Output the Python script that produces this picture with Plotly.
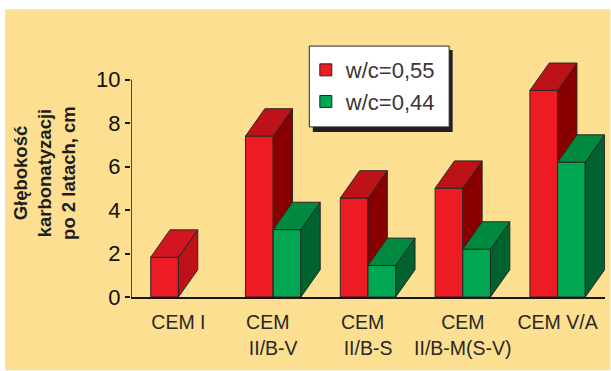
import plotly.graph_objects as go

categories = ["CEM I", "CEM\u00a0\u00a0<br>II/B-V", "CEM\u00a0\u00a0<br>II/B-S", "CEM<br>II/B-M(S-V)", "CEM V/A"]
wc055 = [1.83, 7.4, 4.55, 5.0, 9.5]
wc044 = [None, 3.1, 1.45, 2.2, 6.2]
y_ticks = [0, 2, 4, 6, 8, 10]

W, H = 611, 371
L, R, B = 131, 605.5, 297.5
UNIT = 21.8
YMAX = 12
T = B - UNIT * YMAX
BAR_W = 0.292
DX, DY = 0.204, 1.257
INK = "#2a2726"
BG = "#FDDF91"


def px(x):
    return (x - L) / (R - L)


def py(y):
    return (B - y) / (B - T)


def box(x0, x1, v, xa, ya, side_col, top_col):
    side = go.Scatter(x=[x1, x1 + DX, x1 + DX, x1, x1], y=[0, DY, v + DY, v, 0],
                      mode="lines", fill="toself", fillcolor=side_col,
                      line=dict(color=INK, width=1),
                      showlegend=False, hoverinfo="skip", xaxis=xa, yaxis=ya)
    top = go.Scatter(x=[x0, x0 + DX, x1 + DX, x1, x0], y=[v, v + DY, v + DY, v, v],
                     mode="lines", fill="toself", fillcolor=top_col,
                     line=dict(color=INK, width=1),
                     showlegend=False, hoverinfo="skip", xaxis=xa, yaxis=ya)
    return [side, top]


xs = list(range(len(categories)))
fig = go.Figure()
fig.add_trace(go.Bar(x=xs, y=wc055, width=BAR_W, offset=-BAR_W, name="w/c=0,55",
                     marker=dict(color="#ED1C24", line=dict(color=INK, width=1)),
                     legendgroup="a", xaxis="x", yaxis="y"))
fig.add_trace(go.Bar(x=xs, y=wc044, width=BAR_W, offset=0, name="w/c=0,44",
                     marker=dict(color="#00A651", line=dict(color=INK, width=1)),
                     legendgroup="b", xaxis="x2", yaxis="y2"))
for i, v in zip(xs, wc055):
    if i == 0:
        fig.add_traces(box(i - BAR_W, i, v, "x", "y", "#BE1219", "#D2161F"))
    else:
        fig.add_traces(box(i - BAR_W, i, v, "x", "y", "#890000", "#BE1219"))
for i, v in zip(xs, wc044):
    if v is not None:
        fig.add_traces(box(i, i + BAR_W, v, "x2", "y2", "#00622F", "#008A40"))

font = "Liberation Sans"
fig.update_layout(
    width=W, height=H, autosize=False,
    margin=dict(l=L, r=W - R, t=T, b=H - B, pad=0),
    paper_bgcolor="white", plot_bgcolor="rgba(0,0,0,0)",
    barmode="overlay", showlegend=True,
    xaxis=dict(range=[-0.5, 4.5], tickvals=xs, ticktext=categories, showgrid=False, zeroline=False,
               showline=True, linecolor="#1a1816", linewidth=1.5, ticks="", ticklabelstandoff=7,
               tickfont=dict(family=font, size=19.5, color="#2a2726")),
    yaxis=dict(range=[0, YMAX], tickvals=y_ticks, showgrid=False, zeroline=False, showline=False,
               ticks="outside", ticklen=5, tickwidth=1.5,
               tickcolor="#1a1816", tickfont=dict(family=font, size=22, color="#111111")),
    xaxis2=dict(range=[-0.5, 4.5], overlaying="x", visible=False),
    yaxis2=dict(range=[0, YMAX], overlaying="y", visible=False),
    legend=dict(x=px(306), y=py(49), xanchor="left", yanchor="top",
                bgcolor="rgba(0,0,0,0)", borderwidth=0,
                font=dict(family=font, size=22, color="#3a3735"),
                traceorder="normal", tracegroupgap=1, itemwidth=30),
    shapes=[
        dict(type="rect", xref="paper", yref="paper", x0=px(5), x1=px(611), y0=py(371), y1=py(9),
             fillcolor=BG, line=dict(width=0), layer="below"),
        dict(type="rect", xref="paper", yref="paper", x0=px(313), x1=px(453), y0=py(132), y1=py(50),
             fillcolor="#231F20", line=dict(width=0), layer="below"),
        dict(type="rect", xref="paper", yref="paper", x0=px(309.5), x1=px(449.5), y0=py(127), y1=py(46),
             fillcolor="white", line=dict(color=INK, width=1), layer="below"),
        dict(type="line", xref="x", yref="y", x0=-0.5, x1=-0.5, y0=0, y1=y_ticks[-1],
             line=dict(color="#1a1816", width=1.5), layer="above"),
    ],
    annotations=[
        dict(xref="paper", yref="paper", x=px(45), y=py(173), xanchor="center", yanchor="middle",
             text="<b>Głębokość<br>karbonatyzacji<br>po 2 latach, cm</b>", textangle=-90, showarrow=False,
             font=dict(family=font, size=18.5, color="#1f1c1b"), align="center"),
    ],
)
fig.write_html("out.html", config={"displayModeBar": False},
               post_script="document.body.style.margin='0';")
